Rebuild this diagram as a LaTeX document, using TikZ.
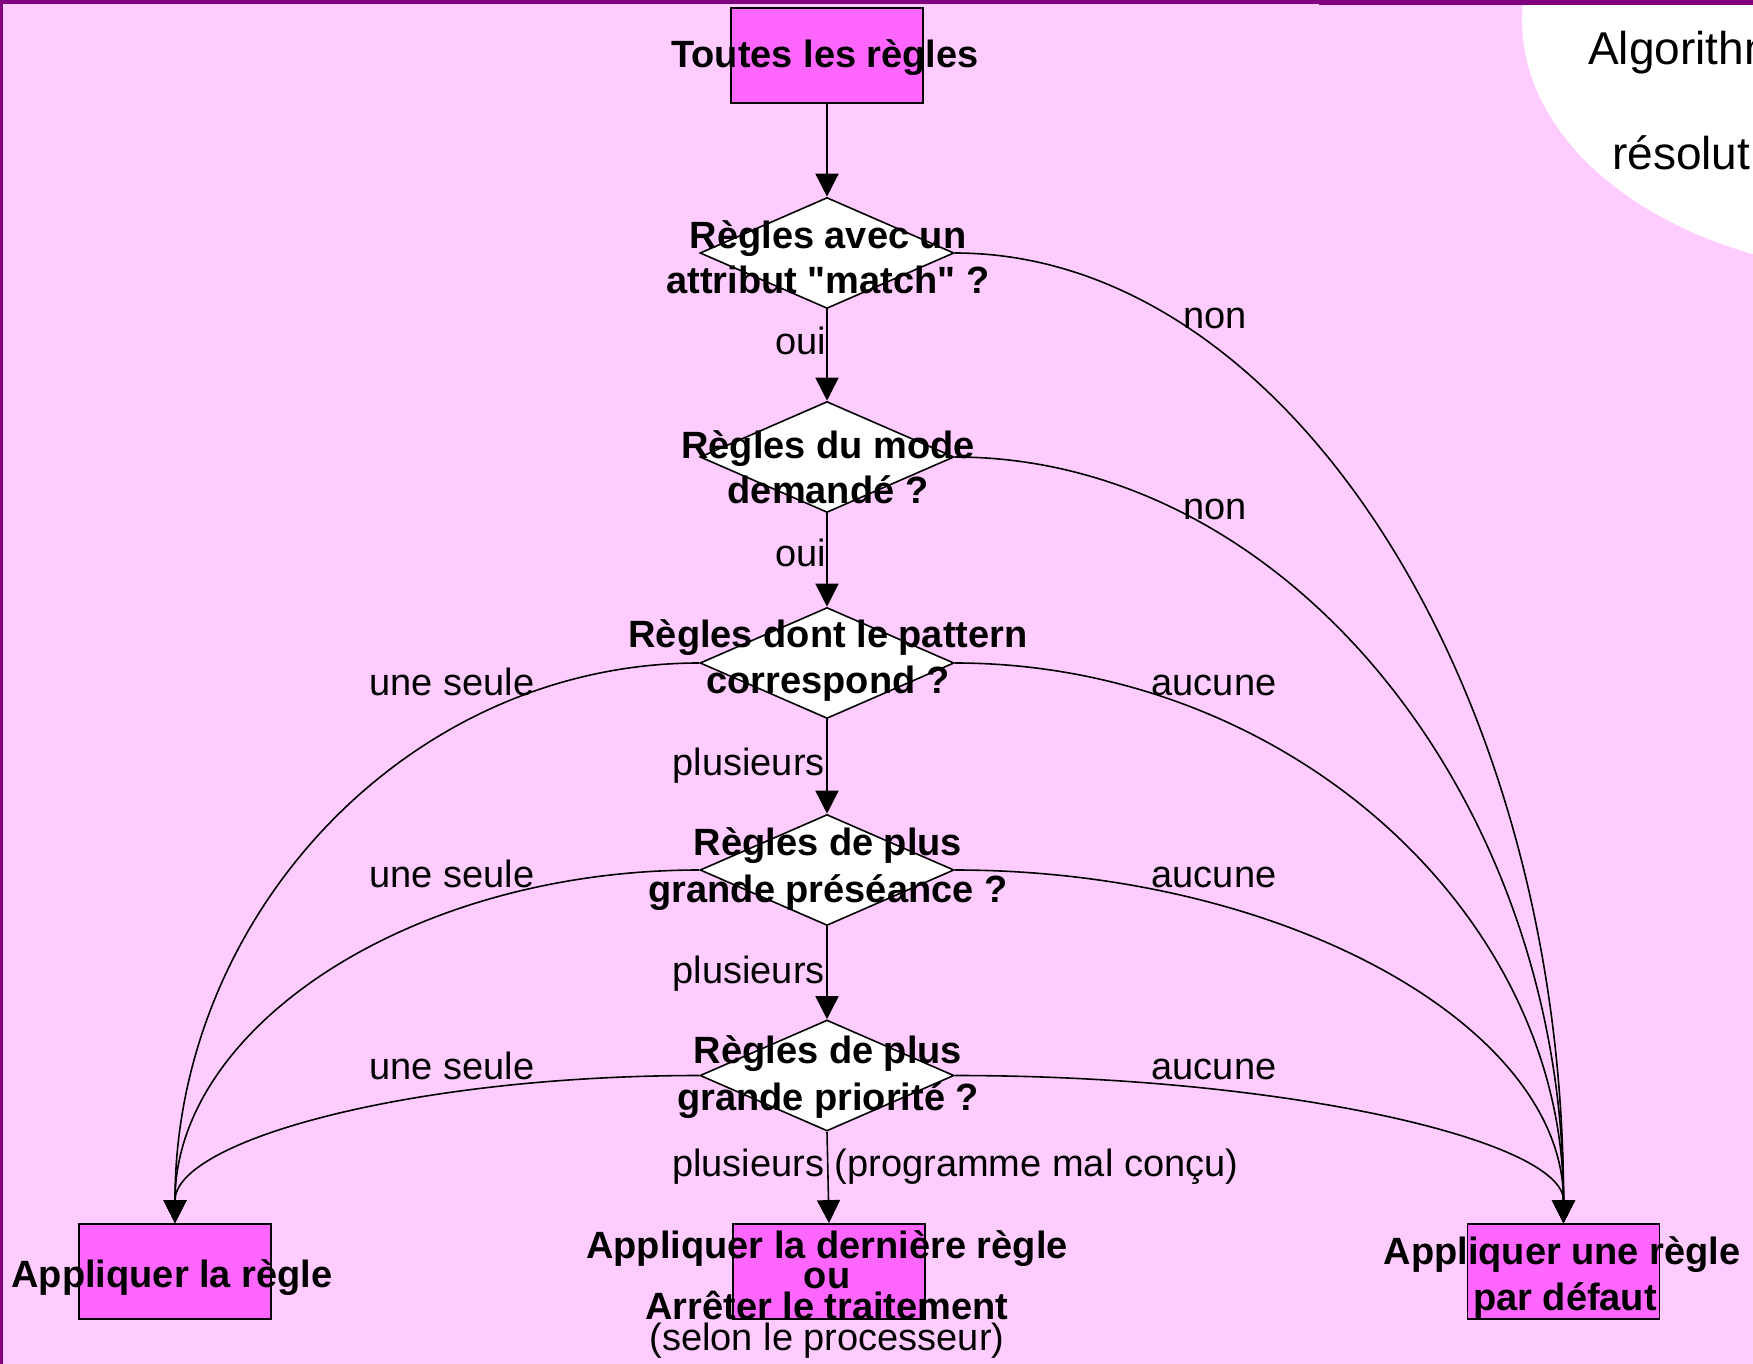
\documentclass[tikz,border=0pt]{standalone}
\usepackage{fontspec}
\setmainfont{Liberation Sans}
\usetikzlibrary{arrows.meta,shapes.geometric}
\definecolor{bgpink}{HTML}{FFCCFF}
\definecolor{boxpink}{HTML}{FF66FF}
\definecolor{bandpurple}{HTML}{800080}
\begin{document}
\begin{tikzpicture}[x=1pt,y=-1pt,
  box/.style={draw=black, line width=1.8pt, fill=boxpink, minimum width=192pt, minimum height=95pt, inner sep=0pt},
  dia/.style={draw=black, line width=1.6pt, fill=white, diamond, minimum width=254pt, minimum height=111pt, inner sep=0pt},
  btxt/.style={font=\fontsize{38}{46}\selectfont\bfseries, inner sep=0pt, anchor=base},
  rtxt/.style={font=\fontsize{38}{46}\selectfont, inner sep=0pt, anchor=base},
  ttxt/.style={font=\fontsize{46}{50}\selectfont, inner sep=0pt, anchor=base west},
  arr/.style={draw=black, line width=1.6pt, -{Triangle[length=23pt,width=23pt]}},
]
\useasboundingbox (0,0) rectangle (1753,1364);
\begin{scope}
\clip (0,0) rectangle (1753,1364);
\fill[bgpink] (0,0) rectangle (1753,1364);
\fill[white] (1900,20) ellipse [x radius=378, y radius=254];
\node[ttxt] (alg1) at (1588,65) {Algorithme};
\node[ttxt] (alg2) at (1612,170) {résolution};
\fill[bandpurple] (0,0) rectangle (1319,4);
\fill[bandpurple] (1319,0) rectangle (1753,5);
\fill[bandpurple] (0,0) rectangle (2.5,1364);
\end{scope}

% boxes
\node[box] (top) at (827,55.5) {};
\node[box] (lb) at (175,1271.5) {};
\node[box] (mb) at (829,1271.5) {};
\node[box] (rb) at (1563.5,1271.5) {};

% diamonds
\node[dia] (d1) at (827,253) {};
\node[dia] (d2) at (827,457) {};
\node[dia] (d3) at (827,663) {};
\node[dia] (d4) at (827,870) {};
\node[dia] (d5) at (827,1075.5) {};

% vertical arrows
\draw[arr] (top.south) -- (d1.north);
\draw[arr] (d1.south) -- (d2.north);
\draw[arr] (d2.south) -- (d3.north);
\draw[arr] (d3.south) -- (d4.north);
\draw[arr] (d4.south) -- (d5.north);
\draw[arr] (d5.south) -- (mb.north);

% right curves
\draw[arr] (d1.east) to[out=0,in=90,out distance=333pt,in distance=534pt] (rb.north);
\draw[arr] (d2.east) to[out=0,in=90,out distance=334pt,in distance=422pt] (rb.north);
\draw[arr] (d3.east) to[out=0,in=90,out distance=333pt,in distance=309pt] (rb.north);
\draw[arr] (d4.east) to[out=0,in=90,out distance=333pt,in distance=195pt] (rb.north);
\draw[arr] (d5.east) to[out=0,in=90,out distance=333pt,in distance=82pt] (rb.north);

% left curves
\draw[arr] (d3.west) to[out=180,in=90,out distance=290pt,in distance=309pt] (lb.north);
\draw[arr] (d4.west) to[out=180,in=90,out distance=290pt,in distance=195pt] (lb.north);
\draw[arr] (d5.west) to[out=180,in=90,out distance=290pt,in distance=82pt] (lb.north);

% texts
\node[btxt] (t0) at (825,68) {Toutes les règles};
\node[btxt] (t1a) at (828,249) {Règles avec un};
\node[btxt] (t1b) at (828,294) {attribut \textquotedbl match\textquotedbl\ ?};
\node[btxt] (t2a) at (828,458) {Règles du mode};
\node[btxt] (t2b) at (828,503) {demandé ?};
\node[btxt] (t3a) at (828,647) {Règles dont le pattern};
\node[btxt] (t3b) at (828,693) {correspond ?};
\node[btxt] (t4a) at (828,855) {Règles de plus};
\node[btxt] (t4b) at (828,902) {grande préséance ?};
\node[btxt] (t5a) at (828,1063) {Règles de plus};
\node[btxt] (t5b) at (828,1110) {grande priorité ?};

\node[btxt] (tl) at (172,1287) {Appliquer la règle};
\node[btxt] (tm1) at (827,1258) {Appliquer la dernière règle};
\node[btxt] (tm2) at (827,1288) {ou};
\node[btxt] (tm3) at (827,1319) {Arrêter le traitement};
\node[rtxt] (tm4) at (827,1350) {(selon le processeur)};
\node[btxt] (tr1) at (1562,1264) {Appliquer une règle};
\node[btxt] (tr2) at (1565,1310) {par défaut};

% labels
\node[rtxt, anchor=base east] (oui1) at (826,354) {oui};
\node[rtxt, anchor=base east] (oui2) at (826,566) {oui};
\node[rtxt] (non1) at (1215,328) {non};
\node[rtxt] (non2) at (1215,519) {non};
\node[rtxt] (us1) at (452,695) {une seule};
\node[rtxt] (us2) at (452,887) {une seule};
\node[rtxt] (us3) at (452,1079) {une seule};
\node[rtxt] (au1) at (1214,695) {aucune};
\node[rtxt] (au2) at (1214,887) {aucune};
\node[rtxt] (au3) at (1214,1079) {aucune};
\node[rtxt, anchor=base east] (pl1) at (825,775) {plusieurs};
\node[rtxt, anchor=base east] (pl2) at (825,983) {plusieurs};
\node[rtxt, anchor=base west] (pl3) at (672,1176) {plusieurs (programme mal conçu)};
\end{tikzpicture}
\end{document}
